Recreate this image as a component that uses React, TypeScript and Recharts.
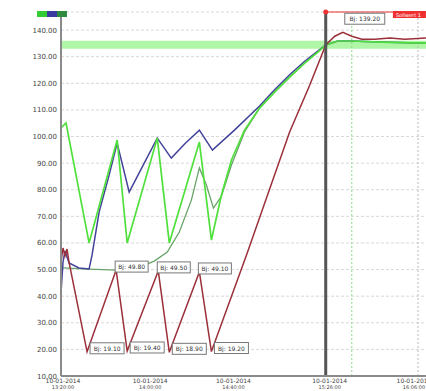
import React from 'react';
import {
  ComposedChart, Line, XAxis, YAxis, CartesianGrid, ReferenceArea, ReferenceLine, ReferenceDot,
} from 'recharts';

// time axis (minutes from start)
const xTicks = [2, 89, 172, 268, 355];
const tickDates = ['10-01-2014', '10-01-2014', '10-01-2014', '10-01-2014', '10-01-2014'];
const tickTimes = ['13:20:00', '14:00:00', '14:40:00', '15:26:00', '16:06:00'];
const yTicks = [10, 15, 20, 25, 30, 35, 40, 45, 50, 55, 60, 65, 70, 75, 80, 85, 90, 95, 100, 105, 110, 115, 120, 125, 130, 135, 140];

// series 1 (bright green)
const greenT = [0, 5, 28, 56, 66, 96, 108, 138, 150, 160, 170, 183, 198, 213, 228, 243, 256, 264, 276, 290, 318, 364];
const greenV = [103.2, 105.1, 60.0, 98.7, 60.0, 99.4, 60.0, 97.9, 61.1, 78.0, 91.2, 102.4, 110.7, 116.7, 122.3, 127.6, 131.7, 134.4, 135.9, 135.9, 135.5, 135.1];

// series 2 (blue)
const blueT = [0, 2, 4, 8, 18, 28, 31, 38, 48, 56, 68, 83, 96, 110, 124, 138, 151, 173, 198, 213, 228, 243, 256, 264, 276, 290, 318, 364];
const blueV = [41.2, 52.8, 57.0, 52.5, 50.6, 50.2, 55.5, 71.6, 85.5, 97.5, 79.1, 90.0, 99.4, 91.9, 97.5, 102.4, 94.9, 102.4, 111.5, 117.6, 123.2, 128.3, 132.1, 134.4, 135.9, 135.9, 135.5, 135.1];

// series 3 (grey green)
const dgreenT = [2, 28, 56, 78, 93, 106, 118, 130, 138, 145, 152, 160, 170, 183, 198, 213, 228, 243, 256, 264];
const dgreenV = [50.6, 50.2, 49.8, 50.9, 53.2, 56.6, 64.1, 76.1, 88.2, 81.8, 73.1, 77.6, 89.3, 101.7, 110.7, 116.7, 122.3, 127.6, 131.7, 134.4];

// series 4 (dark red)
const redT = [0, 2, 4, 6, 8, 26, 55, 66, 97, 108, 138, 150, 185, 228, 248, 264, 273, 281, 290, 300, 313, 328, 343, 364];
const redV = [52.8, 58.1, 55.1, 57.7, 52.8, 19.1, 49.8, 19.4, 49.5, 18.9, 49.1, 19.2, 55.5, 101.7, 119.3, 134.4, 137.7, 139.2, 137.7, 136.6, 136.6, 137.0, 136.6, 137.0];

// annotated red points
const troughIdx = [5, 7, 9, 11];
const peakIdx = [6, 8, 10];
const topIdx = [17];

const legendColors = ['#33cc33', '#3a3aa0', '#2e8a3e'];

const toData = (t: number[], v: number[]) => t.map((x, i) => ({ t: x, v: v[i] }));
const greenData = toData(greenT, greenV);
const blueData = toData(blueT, blueV);
const dgreenData = toData(dgreenT, dgreenV);
const redData = toData(redT, redV);

const FONT = 'DejaVu Sans';

const boxShape = (text: string, dx: number, dy: number, w: number) => (p: any) => (
  <g>
    <rect x={p.cx + dx} y={p.cy + dy} width={w} height={11} fill="#fff" stroke="#777" strokeWidth={1} />
    <text x={p.cx + dx + w / 2} y={p.cy + dy + 8} textAnchor="middle" fontSize={6} fontFamily={FONT} fill="#333">{text}</text>
  </g>
);

const XTick = (p: any) => {
  const i = xTicks.indexOf(p.payload.value);
  return (
    <g>
      <text x={p.x} y={p.y + 7} textAnchor="middle" fontSize={6} fontFamily={FONT} fill="#444">{tickDates[i]}</text>
      <text x={p.x} y={p.y + 13} textAnchor="middle" fontSize={5} fontFamily={FONT} fill="#444">{tickTimes[i]}</text>
    </g>
  );
};

const YTick = (p: any) => (
  <text x={p.x} y={p.y + 2.5} textAnchor="end" fontSize={7} fontFamily={FONT} fill="#444">{p.payload.value.toFixed(2)}</text>
);

export default function App() {
  return (
    <div style={{ position: 'absolute', left: 0, top: 0, width: 426, height: 391, overflow: 'hidden', background: '#fff' }}>
      <ComposedChart width={426} height={391} margin={{ top: 12, right: 0, bottom: 0, left: 0 }}>
        <CartesianGrid vertical={false} stroke="#d8d8d8" strokeDasharray="3 2" />
        <XAxis type="number" dataKey="t" domain={[0, 364]} ticks={xTicks} allowDataOverflow
          height={15} tickSize={0} tickMargin={0} tick={<XTick />} axisLine={{ stroke: '#8a8a8a', strokeWidth: 2 }} tickLine={false} />
        <YAxis type="number" domain={[10, 146.8]} ticks={yTicks} allowDataOverflow width={61}
          tickSize={0} tickMargin={4} tick={<YTick />} axisLine={{ stroke: '#8a8a8a', strokeWidth: 2 }} tickLine={false} />
        <ReferenceArea y1={133} y2={136} fill="#a6f59c" fillOpacity={0.9} stroke="none" />
        <ReferenceLine x={290} stroke="#8fd98f" strokeDasharray="2 2" />
        <ReferenceLine x={356} stroke="#bbbbbb" strokeDasharray="2 2" />
        <ReferenceLine segment={[{ x: 264, y: 146.8 }, { x: 364, y: 146.8 }]} stroke="#ee3333" strokeWidth={1} />
        <Line data={dgreenData} dataKey="v" type="linear" stroke="#6aa36a" strokeWidth={1.3} dot={false} isAnimationActive={false} />
        <Line data={blueData} dataKey="v" type="linear" stroke="#43439a" strokeWidth={1.5} dot={false} isAnimationActive={false} />
        <Line data={greenData} dataKey="v" type="linear" stroke="#4fe03c" strokeWidth={1.7} dot={false} isAnimationActive={false} />
        <Line data={redData} dataKey="v" type="linear" stroke="#9b2f3a" strokeWidth={1.5} dot={false} isAnimationActive={false} />
        <ReferenceLine x={264} stroke="#555" strokeWidth={3} />
        <ReferenceDot x={264} y={146.8} r={2.5} fill="#ee3333" stroke="none" />
        <ReferenceDot x={331} y={146.8} shape={(p: any) => (
          <g>
            <rect x={p.cx} y={p.cy - 1} width={33} height={7} fill="#f03030" />
            <text x={p.cx + 3} y={p.cy + 4.5} fontSize={5} fontFamily={FONT} fill="#fff">Sollwert 1</text>
          </g>
        )} />
        {troughIdx.map((i) => (
          <ReferenceDot key={'tr' + i} x={redT[i]} y={redV[i]} shape={boxShape('Bj: ' + redV[i].toFixed(2), 3, -9, 34)} />
        ))}
        {peakIdx.map((i) => (
          <ReferenceDot key={'pk' + i} x={redT[i]} y={redV[i]} shape={boxShape('Bj: ' + redV[i].toFixed(2), -1, -9, 33)} />
        ))}
        {topIdx.map((i) => (
          <ReferenceDot key={'tp' + i} x={redT[i]} y={redV[i]} shape={boxShape('Bj: ' + redV[i].toFixed(2), 2, -19, 40)} />
        ))}
      </ComposedChart>
      <div style={{ position: 'absolute', left: 37, top: 11, display: 'flex' }}>
        {legendColors.map((c) => (
          <div key={c} style={{ width: 10, height: 6, background: c }} />
        ))}
      </div>
    </div>
  );
}
